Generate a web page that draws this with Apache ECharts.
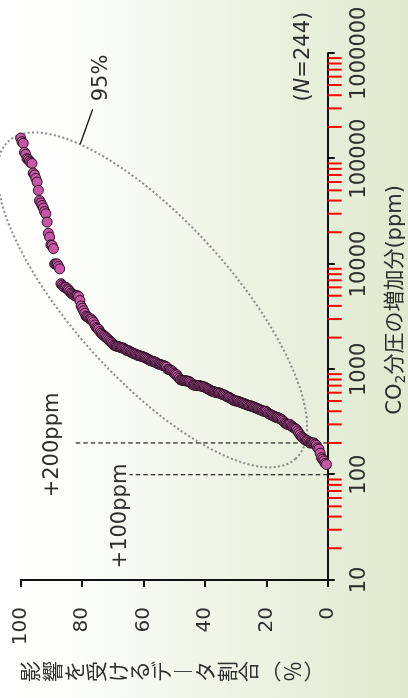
<!DOCTYPE html>
<html>
<head>
<meta charset="utf-8">
<script src="https://cdn.jsdelivr.net/npm/echarts@6/dist/echarts.min.js"></script>
<style>
  html, body { margin: 0; padding: 0; width: 408px; height: 698px; overflow: hidden; background: #fff; }
  /* the chart is laid out landscape and turned a quarter turn */
  #chart {
    position: absolute; left: 0; top: 0;
    width: 698px; height: 408px;
    transform-origin: 0 0;
    transform: translate(0, 698px) rotate(-90deg);
  }
</style>
</head>
<body>
<div id="chart"></div>
<script>
// CO2 increase (ppm) at which an effect was reported, one value per study, low to high
const thresholdsPpm = [
  125, 128, 135, 140, 145, 160, 175, 180, 190, 195,
  200, 200, 200, 200, 205, 210, 210, 215, 220, 225,
  230, 240, 250, 260, 270, 275, 280, 285, 290, 300,
  300, 300, 305, 310, 320, 330, 335, 340, 345, 350,
  350, 355, 360, 365, 370, 375, 380, 390, 400, 400,
  400, 405, 410, 415, 420, 425, 430, 435, 440, 445,
  450, 450, 455, 460, 465, 470, 475, 480, 485, 490,
  495, 500, 500, 505, 510, 520, 530, 540, 545, 550,
  560, 570, 575, 580, 590, 595, 600, 600, 605, 610,
  615, 620, 630, 640, 650, 660, 670, 680, 685, 690,
  695, 700, 700, 700, 705, 710, 712, 730, 750, 765,
  770, 775, 780, 780, 785, 790, 795, 820, 850, 885,
  900, 920, 950, 970, 985, 1000, 1000, 1050, 1070, 1080,
  1090, 1100, 1110, 1120, 1130, 1150, 1170, 1180, 1190, 1200,
  1210, 1230, 1250, 1270, 1290, 1300, 1320, 1330, 1340, 1350,
  1360, 1380, 1400, 1410, 1430, 1450, 1470, 1500, 1500, 1520,
  1550, 1580, 1600, 1600, 1620, 1640, 1650, 1660, 1680, 1700,
  1750, 1800, 1850, 1900, 1950, 2000, 2050, 2100, 2150, 2200,
  2280, 2400, 2450, 2500, 2640, 2800, 2900, 3000, 3000, 3100,
  3150, 3200, 3400, 3600, 3800, 4000, 4500, 4900, 5000, 5000,
  5000, 5100, 5200, 5300, 5500, 5700, 5800, 6000, 6000, 6100,
  6300, 6500, 9000, 9500, 10000, 10000, 10000, 14000, 15000, 15200,
  18000, 19600, 25000, 30000, 31500, 34000, 36000, 38000, 40000, 50000,
  60000, 65000, 70000, 73000, 90000, 92000, 95000, 98000, 100000, 110000,
  115000, 140000, 145000, 157000
];

// axis ticks
const ppmTicks = [10, 100, 1000, 10000, 100000, 1000000];
const minorSteps = [2, 3, 4, 5, 6, 7, 8, 9];
const shareTicks = [0, 20, 40, 60, 80, 100];

// reference levels drawn as dashed guides, and the share each guide rises to
const guideLevels = [200, 100];
const guideTops = [83, 64.6];
const guideLabels = ['+200ppm', '+100ppm'];

// 95% ellipse: centre (ppm, share), half-axes in px, tilt
const ellipseCentre = [4560, 57.2];
const ellipseRadii = [214, 79];
const ellipseTiltDeg = 42.1;
const ellipseLabel = '95%';

const sampleLabel = '244';

const FONT = "'DejaVu Sans', 'Noto Sans CJK JP', sans-serif";
const JP = "'Noto Sans CJK JP', 'DejaVu Sans', sans-serif";
const INK = '#2e2e2e';

const N = thresholdsPpm.length;
// cumulative share of studies at or below each threshold; drawn high to low so lower ones sit on top
const points = thresholdsPpm.map((v, i) => [v, (i + 1) / N * 100]).reverse();

const minorTicks = [];
ppmTicks.slice(0, -1).forEach(d => minorSteps.forEach(m => minorTicks.push(d * m)));

const chart = echarts.init(document.getElementById('chart'), null, { renderer: 'canvas' });

const axisLineStyle = { color: '#111', width: 2 };

chart.setOption({
  animation: false,
  backgroundColor: {
    type: 'linear', x: 0, y: 0, x2: 0, y2: 1,
    colorStops: [
      { offset: 0, color: '#ffffff' },
      { offset: 0.15, color: '#fdfefb' },
      { offset: 1, color: '#dfeacf' }
    ]
  },
  grid: { left: 118, right: 53.3, top: 20.7, bottom: 80.3 },
  xAxis: {
    type: 'log', logBase: 10, min: ppmTicks[0], max: ppmTicks[ppmTicks.length - 1],
    position: 'bottom',
    axisLine: { lineStyle: axisLineStyle },
    axisTick: { length: 7, lineStyle: { color: '#111', width: 2 } },
    axisLabel: {
      fontSize: 21, color: INK, fontFamily: FONT, margin: 21,
      formatter: v => String(Math.round(v))
    },
    splitLine: { show: false }
  },
  yAxis: {
    type: 'value', min: shareTicks[0], max: shareTicks[shareTicks.length - 1], interval: 20,
    axisLine: { show: true, lineStyle: axisLineStyle },
    axisTick: { show: true, length: 7, lineStyle: { color: '#111', width: 2 } },
    axisLabel: { fontSize: 20, color: INK, fontFamily: FONT, margin: 27 },
    splitLine: { show: false }
  },
  series: [
    {
      type: 'scatter',
      data: points,
      symbol: 'circle',
      symbolSize: 10,
      z: 5,
      itemStyle: { color: '#c757a6', borderColor: '#2a0f22', borderWidth: 1, opacity: 1 }
    }
  ]
});

// annotations placed through the axes' own scales
const toPx = p => chart.convertToPixel({ xAxisIndex: 0, yAxisIndex: 0 }, p);
const graphics = [];

// minor ticks of the log axis, 2..9 within each decade
minorTicks.forEach(v => {
  const p = toPx([v, 0]);
  graphics.push({
    type: 'line', z: 10,
    shape: { x1: p[0], y1: p[1], x2: p[0], y2: p[1] + 14 },
    style: { stroke: 'red', lineWidth: 2 }
  });
});

guideLevels.forEach((lvl, k) => {
  const base = toPx([lvl, 0]);
  const top = toPx([lvl, guideTops[k]]);
  graphics.push({
    type: 'line', z: 1,
    shape: { x1: base[0], y1: base[1], x2: top[0], y2: top[1] },
    style: { stroke: '#333', lineWidth: 1.3, lineDash: [4.5, 3] }
  });
  graphics.push({
    type: 'text', z: 2,
    x: k === 0 ? top[0] - 2 : top[0] + 11,
    y: k === 0 ? top[1] - 10 : top[1] + 2,
    style: {
      text: guideLabels[k], fontSize: 21, fontFamily: FONT, fill: INK,
      align: k === 0 ? 'center' : 'right', verticalAlign: 'bottom'
    }
  });
});

const c = toPx(ellipseCentre);
const tilt = ellipseTiltDeg * Math.PI / 180;
graphics.push({
  type: 'ellipse', z: 1,
  x: c[0], y: c[1], rotation: tilt,
  shape: { cx: 0, cy: 0, rx: ellipseRadii[0], ry: ellipseRadii[1] },
  style: { fill: null, stroke: '#8a8a8a', lineWidth: 2, lineDash: [2, 2.4] }
});

// leader from the ellipse rim to its label
const t = 0.70;
const lu = ellipseRadii[0] * Math.cos(t), lv = ellipseRadii[1] * Math.sin(t);
const sx = c[0] + lu * Math.cos(tilt) + lv * Math.sin(tilt);
const sy = c[1] - lu * Math.sin(tilt) + lv * Math.cos(tilt);
const ex = sx + 35, ey = sy + 12.6;
graphics.push({
  type: 'line', z: 2,
  shape: { x1: sx, y1: sy, x2: ex, y2: ey },
  style: { stroke: '#111', lineWidth: 1.3 }
});
graphics.push({
  type: 'text', z: 2, x: ex + 8, y: ey + 9,
  style: { text: ellipseLabel, fontSize: 21, fontFamily: FONT, fill: INK, align: 'left', verticalAlign: 'middle' }
});

// sample size, top right of the plot
const corner = toPx([ppmTicks[ppmTicks.length - 1], 0]);
graphics.push({
  type: 'text', z: 2, x: corner[0] + 41.5, y: corner[1] - 24,
  style: {
    text: '({n|N}=' + sampleLabel + ')',
    fontSize: 21, fontFamily: FONT, fill: INK, align: 'right', verticalAlign: 'middle',
    rich: { n: { fontSize: 21, fontFamily: FONT, fontStyle: 'italic', fill: INK } }
  }
});

// axis titles
const xMid = toPx([4560, 0]);
graphics.push({
  type: 'text', z: 2, x: xMid[0], y: xMid[1] + 68,
  style: {
    text: '{a|CO}{s|2}{a|分圧の増加分(ppm)}',
    align: 'center', verticalAlign: 'middle',
    rich: {
      a: { fontSize: 21, fontFamily: FONT, fill: INK, lineHeight: 26 },
      s: { fontSize: 14, fontFamily: FONT, fill: INK, lineHeight: 14, verticalAlign: 'bottom' }
    }
  }
});

const yTitle = ['影', '響', 'を', '受', 'け', 'る', 'デ', '︱', 'タ', '割', '合', '︵', '％', '︶'];
const yMid = toPx([10, 50]);
graphics.push({
  type: 'text', z: 2, x: 26.5, y: yMid[1] - 2,
  style: {
    text: yTitle.join('\n'), fontSize: 21, lineHeight: 21.8, fontFamily: JP, fill: INK,
    align: 'center', verticalAlign: 'middle'
  }
});

chart.setOption({ graphic: { elements: graphics } });
</script>
</body>
</html>
